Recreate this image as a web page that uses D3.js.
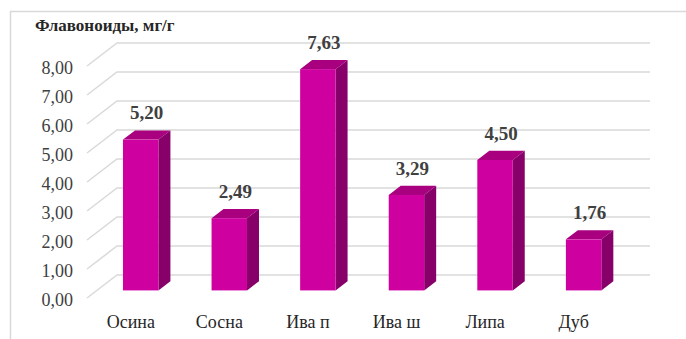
<!DOCTYPE html>
<html lang="ru">
  <head>
    <meta charset="UTF-8" />
    <title>Флавоноиды</title>
    <script src="https://d3js.org/d3.v7.min.js"></script>
    <style>
      body {
        margin: 0;
        padding: 0;
        background: #fff;
      }
      svg {
        display: block;
        font-family: "Liberation Serif", "Times New Roman", serif;
      }
    </style>
  </head>
  <body>
    <svg width="686" height="339"></svg>
    <script>
      const categories = ["Осина", "Сосна", "Ива п", "Ива ш", "Липа", "Дуб"];
      const values = [5.2, 2.49, 7.63, 3.29, 4.5, 1.76];
      const ticks = [0, 1, 2, 3, 4, 5, 6, 7, 8];
      const title = "Флавоноиды, мг/г";

      const width = 686;
      const height = 339;
      const fmt = (v) => d3.format(".2f")(v).replace(".", ",");

      // fake 3d: depth t in [0,1] moves right and up
      const depthX = 30;
      const depthY = -23;
      const barT0 = 0.33;
      const barT1 = 0.73;

      const svg = d3.select("svg");

      svg
        .append("rect")
        .attr("x", 10.5)
        .attr("y", 11.5)
        .attr("width", width)
        .attr("height", height)
        .attr("fill", "#fff")
        .attr("stroke", "#d9d9d9")
        .attr("stroke-width", 1.5);

      const x = d3
        .scaleBand()
        .domain(categories)
        .range([86.5, 618])
        .paddingInner(0.6)
        .paddingOuter(0.3);

      const y = d3.scaleLinear().domain([0, 8]).range([298, 66]);

      // grid: diagonal on the side + line on the back wall
      const grid = svg
        .append("g")
        .attr("stroke", "#d9d9d9")
        .attr("stroke-width", 1.5)
        .attr("fill", "none");

      grid
        .selectAll("path")
        .data(ticks)
        .join("path")
        .attr(
          "d",
          (d) =>
            `M87,${y(d)} L${87 + depthX},${y(d) + depthY} L${x.range()[1] + depthX + 2},${y(d) + depthY}`
        );

      svg
        .append("g")
        .selectAll("text")
        .data(ticks)
        .join("text")
        .attr("x", 73)
        .attr("y", (d) => y(d) + 2)
        .attr("dy", "0.35em")
        .attr("text-anchor", "end")
        .attr("font-size", 18)
        .attr("fill", "#404040")
        .text(fmt);

      const data = categories.map((c, i) => ({ cat: c, value: values[i] }));

      const bars = svg.append("g").selectAll("g").data(data).join("g");

      const fx = (d, t) => x(d.cat) + depthX * t;
      const bw = x.bandwidth();
      const dx = depthX * (barT1 - barT0);
      const dy = depthY * (barT1 - barT0);

      // top face
      bars
        .append("path")
        .attr("fill", "#a8007f")
        .attr("d", (d) => {
          const x0 = fx(d, barT0);
          const yt = y(d.value) + depthY * barT0;
          return `M${x0},${yt} L${x0 + dx},${yt + dy} L${x0 + bw + dx},${yt + dy} L${x0 + bw},${yt} Z`;
        });

      // side face
      bars
        .append("path")
        .attr("fill", "#87006a")
        .attr("d", (d) => {
          const x1 = fx(d, barT0) + bw;
          const yt = y(d.value) + depthY * barT0;
          const yb = y(0) + depthY * barT0;
          return `M${x1},${yt} L${x1 + dx},${yt + dy} L${x1 + dx},${yb + dy} L${x1},${yb} Z`;
        });

      // front face
      bars
        .append("rect")
        .attr("fill", "#cf00a0")
        .attr("x", (d) => fx(d, barT0))
        .attr("y", (d) => y(d.value) + depthY * barT0)
        .attr("width", bw)
        .attr("height", (d) => y(0) - y(d.value));

      bars
        .append("text")
        .attr("x", (d) => fx(d, barT0) + bw / 2 + dx / 2)
        .attr("y", (d) => y(d.value) + depthY * barT1 - 11)
        .attr("text-anchor", "middle")
        .attr("font-size", 19)
        .attr("font-weight", "bold")
        .attr("fill", "#404040")
        .text((d) => fmt(d.value));

      svg
        .append("g")
        .selectAll("text")
        .data(categories)
        .join("text")
        .attr("x", (d) => x(d) + x.bandwidth() / 2)
        .attr("y", 328)
        .attr("text-anchor", "middle")
        .attr("font-size", 18)
        .attr("fill", "#262626")
        .text((d) => d);

      svg
        .append("text")
        .attr("x", 35)
        .attr("y", 31)
        .attr("font-size", 17)
        .attr("font-weight", "bold")
        .attr("fill", "#262626")
        .text(title);
    </script>
  </body>
</html>
